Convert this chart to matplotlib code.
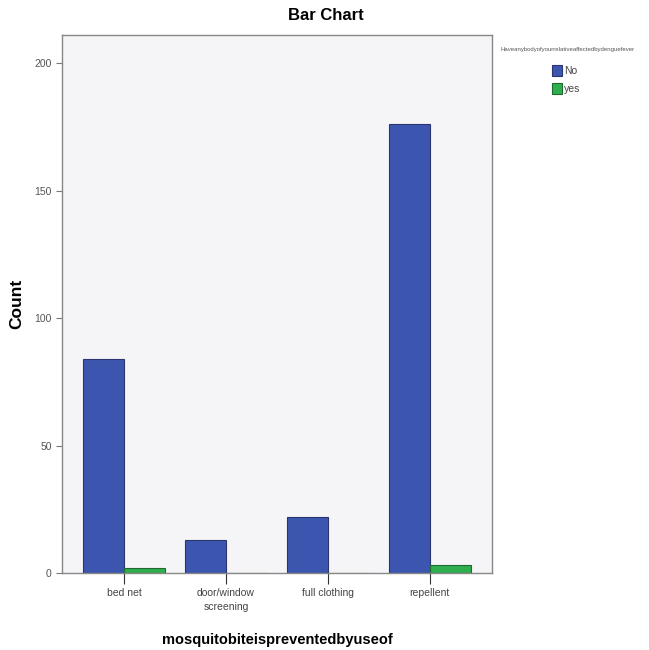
import matplotlib
matplotlib.use("Agg")
import matplotlib.pyplot as plt
import numpy as np

plt.rcParams["font.family"] = ["Liberation Sans", "DejaVu Sans"]

categories = ["bed net", "door/window\nscreening", "full clothing", "repellent"]
no_counts = [84, 13, 22, 176]
yes_counts = [2, 0, 0, 3]
series_names = ["No", "yes"]
legend_title = "Haveanybodyofyourrelativeaffectedbydenguefever"

W, H = 649, 650
fig = plt.figure(figsize=(W / 100, H / 100), dpi=100)
fig.patch.set_facecolor("white")
ax = fig.add_axes([62 / W, 1 - 573 / H, 430 / W, 538 / H])
ax.set_facecolor("#f5f5f7")

x = np.arange(len(categories))
w = 0.4
b1 = ax.bar(x - w / 2, no_counts, w, color="#3c56b0", edgecolor="#2a3470", linewidth=0.8, label=series_names[0])
b2 = ax.bar(x + w / 2, yes_counts, w, color="#2fae4e", edgecolor="#1f6a30", linewidth=0.8, label=series_names[1])

ax.set_xlim(-0.61, 3.61)
ax.set_ylim(0, 211)
ax.set_yticks([0, 50, 100, 150, 200])
ax.set_xticks(x)
ax.set_xticklabels(categories, fontsize=7.5, color="#444444", linespacing=1.45)
ax.tick_params(axis="y", labelsize=7.5, labelcolor="#555555", length=4, color="#777777", direction="out")
ax.tick_params(axis="x", length=8, color="#333333", direction="out", pad=3)
for s in ax.spines.values():
    s.set_color("#888888")
    s.set_linewidth(1.0)

ax.set_ylabel("Count", fontsize=12.5, fontweight="bold")
ax.yaxis.set_label_coords((17 - 62) / 430, (573 - 304) / 538)
ax.set_xlabel("mosquitobiteispreventedbyuseof", fontsize=10.5, fontweight="bold")
ax.xaxis.set_label_coords(0.5, (573 - 640) / 538)
ax.xaxis.label.set_va("center")
ax.yaxis.label.set_va("center")

fig.text(326 / W, 1 - 15 / H, "Bar Chart", fontsize=12, fontweight="bold", ha="center", va="center")

fig.text(568 / W, 1 - 49 / H, legend_title, fontsize=4.3, color="#555555", ha="center", va="center")
leg = fig.legend(handles=[b1, b2], labels=series_names,
                 loc="upper left", bbox_to_anchor=(552 / W, 1 - 65 / H), frameon=False,
                 fontsize=7.5, handlelength=1.0, handleheight=1.3,
                 handletextpad=0.15, labelspacing=0.65, borderpad=0, borderaxespad=0,
                 labelcolor="#444444")

fig.savefig("out.png", dpi=100, facecolor="white")
